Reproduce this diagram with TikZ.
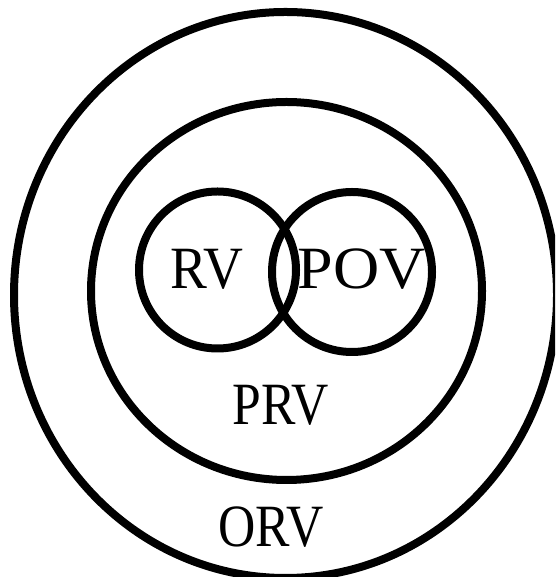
\documentclass[tikz,border=0pt]{standalone}
\usepackage{fontspec}
\setmainfont{Liberation Serif}
\usetikzlibrary{positioning}

\begin{document}
\begin{tikzpicture}[x=1pt,y=1pt,
  ring/.style={line width=8pt},
  lbl/.style={font=\fontsize{60}{60}\selectfont,xscale=0.86,inner sep=0pt}]
  \useasboundingbox (0,0) rectangle (555,577);
  \clip (0,0) rectangle (555,577);
  \draw[ring] (285.5,282) ellipse [x radius=271.5,y radius=283];
  \draw[ring] (286.5,286) ellipse [x radius=195.5,y radius=189];
  \draw[ring] (217.5,307) circle [radius=78.5];
  \draw[ring] (352,305) circle [radius=80];
  \node[lbl,xscale=1.07] (rv) at (207,308) {RV};
  \node[lbl,xscale=1.24] (pov) at (361.5,308) {POV};
  \node[lbl] (prv) at (281,172) {PRV};
  \node[lbl] (orv) at (271,50) {ORV};
\end{tikzpicture}
\end{document}
